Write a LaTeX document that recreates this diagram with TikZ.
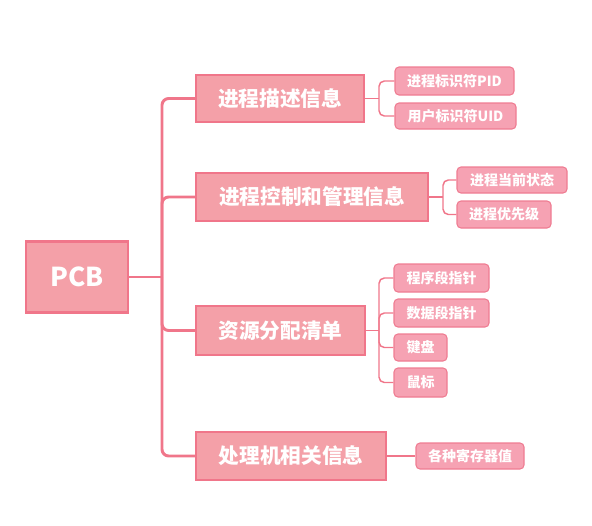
\documentclass[tikz,border=0pt]{standalone}
\usepackage{fontspec}
\setmainfont{Noto Sans CJK SC}
\definecolor{mainfill}{HTML}{F4A0A8}
\definecolor{mainline}{HTML}{F0768A}
\definecolor{subfill}{HTML}{F6A2B3}
\definecolor{subline}{HTML}{EF7C92}
\tikzset{
  wh/.style 2 args={minimum width=#1*0.75pt, minimum height=#2*0.75pt},
  rootbox/.style={draw=mainline, line width=2.2pt, fill=mainfill, text=white, inner sep=0pt, font=\fontsize{19.5}{22}\selectfont\bfseries},
  mainbox/.style={draw=mainline, line width=1.5pt, fill=mainfill, text=white, inner sep=0pt, font=\fontsize{15.5}{18}\selectfont\bfseries},
  subbox/.style={draw=subline, line width=0.8pt, fill=subfill, text=white, inner sep=0pt, rounded corners=3pt, font=\fontsize{10.5}{12}\selectfont\bfseries},
  trunk/.style={draw=mainline, line width=2.2pt, rounded corners=5pt},
  twig/.style={draw=mainline, line width=1.1pt, rounded corners=4pt},
}
\begin{document}
\begin{tikzpicture}[x=0.75pt, y=-0.75pt]
\useasboundingbox (0,0) rectangle (592,525);
% root
\node[rootbox, wh={102}{71}] (pcb) at (77,277) {PCB};
% main boxes
\node[mainbox, wh={168}{47}] (b1) at (280,98.5) {进程描述信息};
\node[mainbox, wh={232}{48}] (b2) at (312,197) {进程控制和管理信息};
\node[mainbox, wh={169}{49}] (b3) at (280.5,330.5) {资源分配清单};
\node[mainbox, wh={190}{48}] (b4) at (291,456) {处理机相关信息};
% sub boxes
\node[subbox, wh={119}{28}] (s11) at (454.5,81) {进程标识符PID};
\node[subbox, wh={121}{26}] (s12) at (455.5,116) {用户标识符UID};
\node[subbox, wh={110}{26}] (s21) at (512,180) {进程当前状态};
\node[subbox, wh={94}{27}] (s22) at (504,214.5) {进程优先级};
\node[subbox, wh={95}{28}] (s31) at (441.5,278) {程序段指针};
\node[subbox, wh={95}{28}] (s32) at (441.5,313) {数据段指针};
\node[subbox, wh={53}{27}] (s33) at (420.5,347.5) {键盘};
\node[subbox, wh={53}{29}] (s34) at (420.5,382.5) {鼠标};
\node[subbox, wh={108}{26}] (s41) at (470,456) {各种寄存器值};
% trunk
\coordinate (t) at (162,277);
\draw[trunk] (pcb.east) -- (t);
\draw[trunk] (b1.west) -| (t) |- (b4.west);
\draw[trunk] (b2.west) -| (t);
\draw[trunk] (b3.west) -| (t);
% twigs
\coordinate (j1) at (379,98.5);
\draw[twig] (b1.east) -- (j1);
\draw[twig] (s11.west) -| (j1) |- (s12.west);
\coordinate (j2) at (443,197);
\draw[twig] (b2.east) -- (j2);
\draw[twig] (s21.west) -| (j2) |- (s22.west);
\coordinate (j3) at (379,330.5);
\draw[twig] (b3.east) -- (j3);
\draw[twig] (s31.west) -| (j3) |- (s34.west);
\draw[twig] (s32.west) -| (j3);
\draw[twig] (s33.west) -| (j3);
\draw[twig] (b4.east) -- (s41.west);
\end{tikzpicture}
\end{document}
